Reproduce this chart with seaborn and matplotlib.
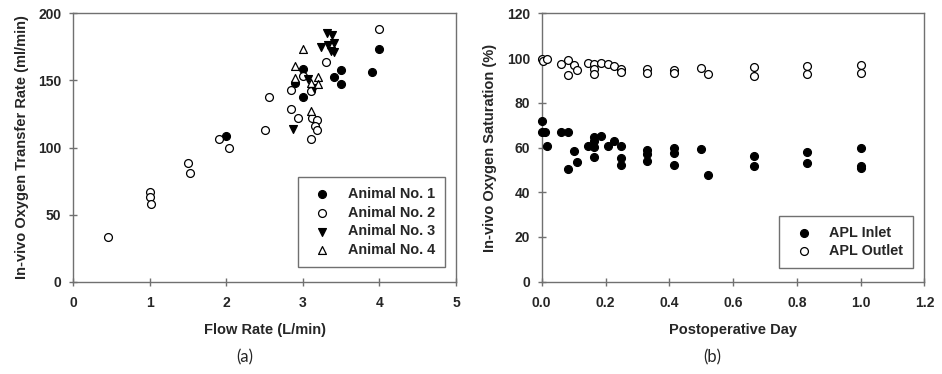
import seaborn as sns
import matplotlib.pyplot as plt
import pandas as pd

sns.set_style("ticks")
plt.rcParams['font.family'] = ['Liberation Sans', 'DejaVu Sans']

# panel (a): oxygen transfer rate vs flow rate
a1_flow = [2.0, 2.9, 3.0, 3.0, 3.4, 3.5, 3.5, 3.9, 4.0]
a1_otr = [108.6, 147.8, 158.8, 137.6, 152.5, 158.0, 147.1, 156.3, 173.2]
a2_flow = [0.45, 1.0, 1.0, 1.02, 1.5, 1.53, 1.9, 2.03, 2.5, 2.56, 2.84, 2.85,
           2.94, 3.0, 3.1, 3.12, 3.19, 3.16, 3.19, 3.1, 3.3, 4.0]
a2_otr = [33.0, 67.1, 63.4, 57.9, 88.2, 81.0, 106.6, 99.6, 112.8, 137.6, 142.6, 128.7,
          122.2, 153.3, 142.1, 122.0, 120.7, 116.3, 113.0, 106.1, 163.7, 188.3]
a3_flow = [2.87, 3.07, 3.15, 3.24, 3.31, 3.38, 3.33, 3.40, 3.37, 3.40]
a3_otr = [114.0, 151.0, 144.5, 175.2, 185.0, 183.5, 176.2, 178.2, 172.2, 171.4]
a4_flow = [3.0, 2.9, 2.9, 3.1, 3.2, 3.2, 3.1]
a4_otr = [173.2, 160.5, 152.0, 148.3, 152.8, 147.1, 127.0]

# panel (b): saturation vs postoperative day
inlet_day = [0.0, 0.0, 0.01, 0.018, 0.06, 0.082, 0.082, 0.102, 0.11, 0.144, 0.165, 0.165,
             0.165, 0.165, 0.186, 0.207, 0.228, 0.249, 0.249, 0.249, 0.331, 0.331, 0.331,
             0.415, 0.415, 0.415, 0.5, 0.521, 0.667, 0.667, 0.833, 0.833, 1.0, 1.0, 1.0]
inlet_sat = [72.0, 66.8, 66.8, 60.8, 66.9, 66.9, 50.2, 58.6, 53.4, 60.8, 64.5, 63.0,
             60.4, 55.9, 65.1, 60.8, 62.8, 60.7, 55.3, 52.0, 59.0, 57.1, 54.1,
             59.8, 57.5, 52.2, 59.3, 47.7, 56.1, 51.9, 58.1, 53.1, 59.9, 51.9, 51.0]
outlet_day = [0.0, 0.005, 0.016, 0.06, 0.082, 0.082, 0.102, 0.11, 0.144, 0.165, 0.165,
              0.165, 0.186, 0.207, 0.228, 0.249, 0.249, 0.331, 0.331, 0.415, 0.415,
              0.5, 0.521, 0.667, 0.667, 0.833, 0.833, 1.0, 1.0]
outlet_sat = [99.6, 98.8, 99.7, 97.3, 99.1, 92.4, 96.9, 94.8, 97.8, 97.2, 95.1,
              93.0, 97.8, 97.2, 96.3, 95.1, 93.6, 95.1, 93.3, 94.8, 93.2,
              95.6, 92.9, 95.9, 92.0, 96.5, 92.9, 96.7, 93.5]

fig = plt.figure(figsize=(9.42, 3.74), dpi=100)
ax1 = fig.add_axes([0.0778, 0.2468, 0.4063, 0.7176])
ax2 = fig.add_axes([0.5751, 0.2468, 0.4062, 0.7176])

series_a = [
    ("Animal No. 1", a1_flow, a1_otr, "o", "black"),
    ("Animal No. 2", a2_flow, a2_otr, "o", "white"),
    ("Animal No. 3", a3_flow, a3_otr, "v", "black"),
    ("Animal No. 4", a4_flow, a4_otr, "^", "white"),
]
for name, xs, ys, mk, fc in series_a:
    df = pd.DataFrame({"Flow": xs, "OTR": ys})
    sns.scatterplot(data=df, x="Flow", y="OTR", marker=mk, color=fc, edgecolor="black",
                    linewidth=0.9, s=32, label=name, ax=ax1, clip_on=False, zorder=3)

series_b = [
    ("APL Inlet", inlet_day, inlet_sat, "black"),
    ("APL Outlet", outlet_day, outlet_sat, "white"),
]
for name, xs, ys, fc in series_b:
    df = pd.DataFrame({"Day": xs, "Sat": ys})
    sns.scatterplot(data=df, x="Day", y="Sat", marker="o", color=fc, edgecolor="black",
                    linewidth=0.9, s=32, label=name, ax=ax2, clip_on=False, zorder=3)

bold = dict(fontsize=10.5, fontweight="bold")
ax1.set_xlim(0, 5)
ax1.set_ylim(0, 200)
ax1.set_xticks([0, 1, 2, 3, 4, 5])
ax1.set_yticks([0, 50, 100, 150, 200])
ax1.set_xlabel("Flow Rate (L/min)", labelpad=10, **bold)
ax1.set_ylabel("In-vivo Oxygen Transfer Rate (ml/min)", labelpad=7, **bold)

ax2.set_xlim(0, 1.2)
ax2.set_ylim(0, 120)
ax2.set_xticks([0.0, 0.2, 0.4, 0.6, 0.8, 1.0, 1.2])
ax2.set_xticklabels(["0.0", "0.2", "0.4", "0.6", "0.8", "1.0", "1.2"])
ax2.set_yticks([0, 20, 40, 60, 80, 100, 120])
ax2.set_xlabel("Postoperative Day", labelpad=10, **bold)
ax2.set_ylabel("In-vivo Oxygen Saturation (%)", labelpad=7, **bold)

for ax in (ax1, ax2):
    for sp in ax.spines.values():
        sp.set_color("#707070")
        sp.set_linewidth(1.0)
    ax.tick_params(direction="inout", length=6, width=1.0, color="#707070",
                   labelsize=10)
    ax.tick_params(axis="x", pad=7)
    ax.tick_params(axis="y", pad=5.5)
    for lb in ax.get_xticklabels() + ax.get_yticklabels():
        lb.set_fontweight("bold")

leg1 = ax1.legend(loc="lower left", bbox_to_anchor=(0.586, 0.054, 0.385, 0.329),
                  mode="expand", fancybox=False, framealpha=1, edgecolor="#707070",
                  prop={"weight": "bold", "size": 10.4}, borderaxespad=0,
                  handletextpad=0.8, labelspacing=0.32, borderpad=0.7)
leg2 = ax2.legend(loc="lower left", bbox_to_anchor=(0.621, 0.050, 0.350, 0.190),
                  mode="expand", fancybox=False, framealpha=1, edgecolor="#707070",
                  prop={"weight": "bold", "size": 10.4}, borderaxespad=0,
                  handletextpad=0.75, labelspacing=0.3, borderpad=0.7)
for leg in (leg1, leg2):
    leg.get_frame().set_linewidth(1.0)

fig.text(245 / 942, 1 - 357 / 374, "(a)", ha="center", va="center", fontsize=12,
         family=["Lato", "DejaVu Sans"])
fig.text(712 / 942, 1 - 357 / 374, "(b)", ha="center", va="center", fontsize=12,
         family=["Lato", "DejaVu Sans"])

fig.savefig("out.png", dpi=100)
